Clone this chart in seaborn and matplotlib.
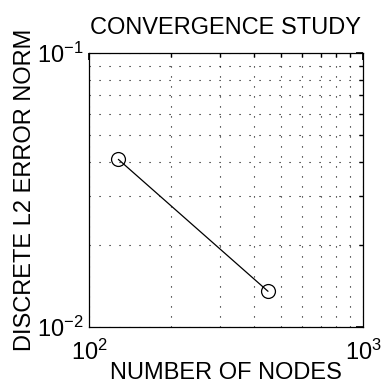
import matplotlib
matplotlib.use("Agg")
import matplotlib.pyplot as plt
import matplotlib.ticker as mticker
import seaborn as sns
import pandas as pd
import numpy as np

nodes = [128, 450]
error = [0.0409, 0.0135]
title = "CONVERGENCE STUDY"
xlabel = "NUMBER OF NODES"
ylabel = "DISCRETE L2 ERROR NORM"

sns.set_theme(style="white")
plt.rcParams['font.family'] = ['Liberation Sans', 'DejaVu Sans']
plt.rcParams['mathtext.fontset'] = 'custom'
plt.rcParams['mathtext.rm'] = 'Liberation Sans'
plt.rcParams['mathtext.it'] = 'Liberation Sans'
plt.rcParams['mathtext.default'] = 'regular'

df = pd.DataFrame({"nodes": nodes, "error": error})

fig = plt.figure(figsize=(3.83, 3.91), dpi=100)
ax = fig.add_axes([89/383, 1 - 327/391, 274/383, 274/391])

sns.lineplot(data=df, x="nodes", y="error", ax=ax, color="black", lw=0.9,
             marker="o", markersize=10, markerfacecolor="none",
             markeredgecolor="black", markeredgewidth=0.9)
ax.set_xscale("log")
ax.set_yscale("log")
ax.set_xlim(100, 1000)
ax.set_ylim(0.01, 0.1)
ax.xaxis.set_minor_formatter(mticker.NullFormatter())
ax.yaxis.set_minor_formatter(mticker.NullFormatter())

ax.grid(True, which="both", linestyle=(0, (1, 8)), color="black", lw=0.8)
for s in ax.spines.values():
    s.set_color("black")
    s.set_linewidth(0.9)

ax.tick_params(which="both", direction="in", top=True, right=True,
               color="black", labelsize=17, labelcolor="black")
ax.tick_params(which="major", length=5)
ax.tick_params(which="minor", length=3)
ax.tick_params(axis="x", which="major", pad=9)
ax.tick_params(axis="y", which="major", pad=4)

ax.set_title(title, fontsize=17, color="black", pad=14)
ax.set_xlabel(xlabel, fontsize=17, color="black", labelpad=-2)
ax.set_ylabel(ylabel, fontsize=17, color="black", labelpad=1)

fig.savefig("out.png", dpi=100, facecolor="white")
